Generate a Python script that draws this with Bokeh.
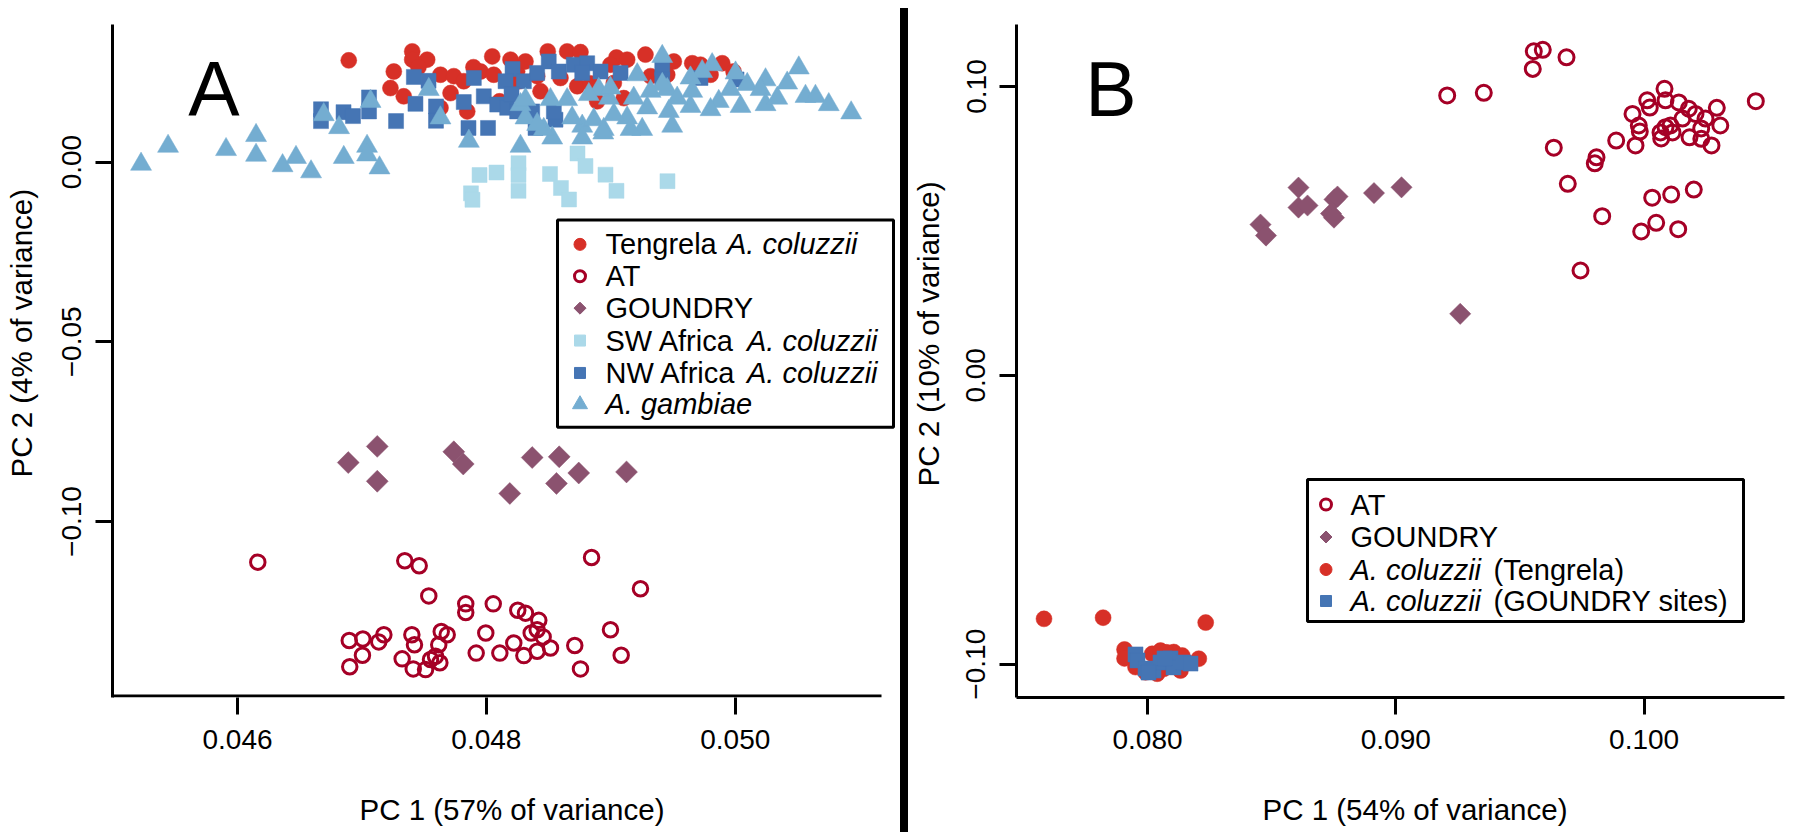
import math
from bokeh.plotting import figure
from bokeh.models import (Range1d, FixedTicker, CustomJSTickFormatter, Label,
                          BoxAnnotation, Div, Title)
from bokeh.layouts import row
from bokeh.embed import file_html
from bokeh.resources import INLINE

# ---------------- Panel A data (PC1, PC2) ----------------
tengrela_a_x = [0.046894, 0.047404, 0.047404, 0.047524, 0.047256, 0.047229, 0.047336, 0.047631,
                0.047738, 0.047818, 0.047712, 0.047846, 0.048047, 0.048194, 0.047953, 0.048059,
                0.048247, 0.047631, 0.048314, 0.048493, 0.048649, 0.048756, 0.049045, 0.049131,
                0.049278, 0.049506, 0.049654, 0.049720, 0.049895, 0.048997, 0.048260, 0.048408,
                0.048595, 0.048730, 0.049024, 0.049104, 0.048890, 0.049453, 0.049801, 0.049986,
                0.048105, 0.048435, 0.048837, 0.049319, 0.047454, 0.047896]
tengrela_a_y = [0.0283, 0.0308, 0.0285, 0.0285, 0.0252, 0.0206, 0.0183, 0.0243,
                0.0239, 0.0225, 0.0192, 0.0141, 0.0294, 0.0285, 0.0252, 0.0243,
                0.0252, 0.0151, 0.0280, 0.0308, 0.0308, 0.0306, 0.0291, 0.0285,
                0.0299, 0.0280, 0.0275, 0.0271, 0.0275, 0.0271, 0.0225, 0.0239,
                0.0234, 0.0211, 0.0220, 0.0178, 0.0169, 0.0243, 0.0243, 0.0252,
                0.0169, 0.0197, 0.0219, 0.0239, 0.0264, 0.0264]

at_a_x = [0.046163, 0.047344, 0.047460, 0.048845, 0.049238, 0.047537, 0.047834, 0.047834,
          0.048055, 0.048252, 0.048314, 0.048421, 0.048408, 0.048456, 0.048515, 0.048408,
          0.048301, 0.048220, 0.048108, 0.047995, 0.047918, 0.048710, 0.048756, 0.048997,
          0.049083, 0.046898, 0.047007, 0.047135, 0.047176, 0.047004, 0.046902, 0.047401,
          0.047422, 0.047323, 0.047412, 0.047511, 0.047551, 0.047617, 0.047637, 0.047685,
          0.047626, 0.047591, 0.048360]
at_a_y = [-0.1113, -0.1109, -0.1123, -0.1100, -0.1187, -0.1207, -0.1229, -0.1253,
          -0.1229, -0.1247, -0.1255, -0.1275, -0.1301, -0.1321, -0.1352, -0.1361,
          -0.1373, -0.1338, -0.1366, -0.1310, -0.1366, -0.1345, -0.1410, -0.1301,
          -0.1372, -0.1331, -0.1327, -0.1335, -0.1315, -0.1372, -0.1404, -0.1315,
          -0.1343, -0.1382, -0.1410, -0.1412, -0.1384, -0.1343, -0.1306, -0.1315,
          -0.1393, -0.1375, -0.1310]

goundry_a_x = [0.046890, 0.047123, 0.047123, 0.047738, 0.047814, 0.048368, 0.048585,
               0.048188, 0.048563, 0.048742, 0.049126]
goundry_a_y = [-0.0836, -0.0791, -0.0888, -0.0806, -0.0840, -0.0822, -0.0820,
               -0.0922, -0.0894, -0.0865, -0.0862]

sw_a_x = [0.047876, 0.047945, 0.048081, 0.048258, 0.048258, 0.048258, 0.048511, 0.048599,
          0.048664, 0.048732, 0.048796, 0.048957, 0.049045, 0.049455, 0.047888]
sw_a_y = [-0.0087, -0.0036, -0.0029, -0.0003, -0.0036, -0.0080, -0.0033, -0.0072,
          -0.0104, 0.0024, -0.0011, -0.0035, -0.0080, -0.0053, -0.0105]

nw_a_x = [0.046671, 0.046671, 0.046852, 0.046928, 0.047057, 0.047057, 0.047274, 0.047417,
          0.047535, 0.047430, 0.047595, 0.047595, 0.047818, 0.047856, 0.047899, 0.047979,
          0.048013, 0.048087, 0.048167, 0.048210, 0.048301, 0.048408, 0.048501, 0.048582,
          0.048702, 0.048810, 0.048770, 0.048917, 0.049078, 0.049413, 0.049413, 0.049720,
          0.050010, 0.048368, 0.048395, 0.048555, 0.048247, 0.048542, 0.048154, 0.048202]
nw_a_y = [0.0147, 0.0114, 0.0139, 0.0128, 0.0180, 0.0141, 0.0114, 0.0237,
          0.0226, 0.0162, 0.0155, 0.0115, 0.0167, 0.0095, 0.0234, 0.0183,
          0.0095, 0.0160, 0.0151, 0.0259, 0.0225, 0.0248, 0.0280, 0.0252,
          0.0271, 0.0275, 0.0248, 0.0252, 0.0248, 0.0262, 0.0229, 0.0234,
          0.0230, 0.0141, 0.0095, 0.0118, 0.0141, 0.0141, 0.0225, 0.0189]

gambiae_a_x = [0.045225, 0.045442, 0.045908, 0.046149, 0.046149, 0.046362, 0.046470, 0.046591,
               0.046854, 0.047041, 0.047041, 0.047141, 0.046816, 0.046693, 0.047069, 0.047537,
               0.047631, 0.047859, 0.048274, 0.048274, 0.048314, 0.049413, 0.049212, 0.049814,
               0.049734, 0.049640, 0.050002, 0.050510, 0.050243, 0.050417, 0.050096, 0.050203,
               0.050564, 0.050644, 0.050751, 0.050931, 0.050243, 0.050042, 0.050337, 0.049867,
               0.049801, 0.049640, 0.049453, 0.049413, 0.049319, 0.049533, 0.049292, 0.049466,
               0.049493, 0.049252, 0.049131, 0.049024, 0.048943, 0.048984, 0.048903, 0.048823,
               0.049184, 0.048997, 0.048770, 0.048770, 0.048689, 0.048649, 0.048515, 0.048529,
               0.048461, 0.048314, 0.049654, 0.049961, 0.049158, 0.048863, 0.048939, 0.048408]
gambiae_a_y = [-0.0006, 0.0044, 0.0035, 0.0074, 0.0019, -0.0010, 0.0013, -0.0027,
               0.0013, 0.0044, 0.0020, -0.0016, 0.0096, 0.0132, 0.0169, 0.0202,
               0.0123, 0.0058, 0.0044, 0.0160, 0.0123, 0.0294, 0.0243, 0.0271,
               0.0252, 0.0234, 0.0248, 0.0262, 0.0229, 0.0220, 0.0216, 0.0202,
               0.0183, 0.0183, 0.0160, 0.0137, 0.0160, 0.0155, 0.0178, 0.0169,
               0.0146, 0.0155, 0.0202, 0.0216, 0.0197, 0.0178, 0.0151, 0.0141,
               0.0100, 0.0091, 0.0123, 0.0132, 0.0091, 0.0178, 0.0202, 0.0188,
               0.0178, 0.0206, 0.0100, 0.0067, 0.0123, 0.0174, 0.0174, 0.0067,
               0.0091, 0.0174, 0.0197, 0.0202, 0.0091, 0.0118, 0.0081, 0.0105]

# ---------------- Panel B data (PC1, PC2) ----------------
at_b_x = [0.095558, 0.095920, 0.095517, 0.096875, 0.092070, 0.093544, 0.096363, 0.096927,
          0.098312, 0.097439, 0.098083, 0.098014, 0.098876, 0.099654, 0.100326, 0.101091,
          0.102001, 0.099883, 0.100487, 0.101373, 0.099533, 0.099786, 0.099827, 0.100125,
          0.100230, 0.100822, 0.100862, 0.100661, 0.100689, 0.100862, 0.101063, 0.101398,
          0.101800, 0.101829, 0.102070, 0.102300, 0.102304, 0.102714, 0.102928, 0.103069,
          0.104499, 0.102473, 0.101546, 0.101144]
at_b_y = [0.1122, 0.1127, 0.1061, 0.1101, 0.0969, 0.0978, 0.0788, 0.0663,
          0.0551, 0.0363, 0.0755, 0.0734, 0.0813, 0.0796, 0.0615, 0.0626,
          0.0643, 0.0498, 0.0528, 0.0506, 0.0905, 0.0865, 0.0844, 0.0952,
          0.0927, 0.0992, 0.0952, 0.0841, 0.0820, 0.0859, 0.0865, 0.0945,
          0.0923, 0.0824, 0.0905, 0.0855, 0.0819, 0.0796, 0.0926, 0.0865,
          0.0949, 0.0889, 0.0889, 0.0841]

goundry_b_x = [0.084551, 0.084772, 0.086081, 0.086081, 0.086444, 0.087531, 0.087652,
               0.087390, 0.087511, 0.089122, 0.090230, 0.092594]
goundry_b_y = [0.0522, 0.0484, 0.0650, 0.0581, 0.0588, 0.0609, 0.0619,
               0.0560, 0.0546, 0.0631, 0.0651, 0.0213]

tengrela_b_x = [0.075832, 0.078212, 0.082344, 0.079074, 0.079074, 0.079517, 0.080189, 0.080524,
                0.081059, 0.081398, 0.082066, 0.079920, 0.080391, 0.081329, 0.080656, 0.080765]
tengrela_b_y = [-0.0843, -0.0839, -0.0856, -0.0949, -0.0980, -0.1010, -0.0964, -0.0953,
                -0.0958, -0.0970, -0.0981, -0.1028, -0.1033, -0.1022, -0.1016, -0.0959]

sites_b_x = [0.079517, 0.079597, 0.079920, 0.080242, 0.080524, 0.080926, 0.081047, 0.081450,
             0.081732, 0.080685, 0.080040]
sites_b_y = [-0.0966, -0.0987, -0.1015, -0.1022, -0.0994, -0.0980, -0.1011, -0.0994,
             -0.0998, -0.0980, -0.1029]

# ticks and texts
a_xticks = [0.046, 0.048, 0.050]
a_yticks = [-0.10, -0.05, 0.00]
b_xticks = [0.080, 0.090, 0.100]
b_yticks = [-0.10, 0.00, 0.10]
a_xlabel = "PC 1 (57% of variance)"
a_ylabel = "PC 2 (4% of variance)"
b_xlabel = "PC 1 (54% of variance)"
b_ylabel = "PC 2 (10% of variance)"

# colours
C_TENG = "#D73027"
C_AT = "#A50026"
C_GOU = "#8B526F"
C_SW = "#ABD9E9"
C_NW = "#4575B4"
C_GAM = "#74ADD1"

FONT = "Liberation Sans"
TICK_SIZE = "28px"
TITLE_SIZE = "29.5px"
H = 836


# page-pixel calibration of each panel
def lin(px0, v0, scale):
    return lambda px: v0 + (px - px0) / scale


A_X = lin(237, 0.046, 124450.0)
A_Y = lambda py: (161 - py) / 3605.0
B_X = lin(1147, 0.080, 24830.0)
B_Y = lambda py: 0.10 - (py - 86) / 2888.5

# page-pixel frames (left, top, right, bottom); the page itself starts at 0,0
A_FRAME = (112, 23, 896, 698)
B_FRAME = (1016, 24, 1784, 697)


def make_fig(page_left, page_right, frame, fx, fy, xticks, yticks, xdig, ydig):
    p = figure(width=page_right - page_left, height=H,
               x_range=Range1d(fx(frame[0]), fx(frame[2])),
               y_range=Range1d(fy(frame[3]), fy(frame[1])),
               output_backend="svg", toolbar_location=None,
               min_border_left=frame[0] - page_left, min_border_right=page_right - frame[2],
               min_border_top=frame[1], min_border_bottom=H - frame[3])
    p.grid.visible = False
    p.outline_line_color = None
    p.border_fill_color = "white"
    for ax, ticks, dig in ((p.xaxis, xticks, xdig), (p.yaxis, yticks, ydig)):
        ax.ticker = FixedTicker(ticks=ticks)
        ax.formatter = CustomJSTickFormatter(
            code="return tick.toFixed(%d).replace('-', '\u2212');" % dig)
        ax.axis_line_width = 3
        ax.axis_line_color = "black"
        ax.major_tick_line_width = 3
        ax.major_tick_line_color = "black"
        ax.major_tick_out = 17
        ax.major_tick_in = 0
        ax.minor_tick_line_color = None
        ax.major_label_text_font = FONT
        ax.major_label_text_font_size = TICK_SIZE
        ax.major_label_text_color = "black"
    p.xaxis.major_label_standoff = 15
    p.yaxis.major_label_standoff = 14
    p.yaxis.major_label_orientation = "vertical"
    return p


def add_text(p, fx, fy, px, py, text, size="29px", style="normal", align="left",
             baseline="middle"):
    p.add_layout(Label(x=fx(px), y=fy(py), text=text, text_font=FONT, text_font_size=size,
                       text_font_style=style, text_align=align, text_baseline=baseline,
                       text_color="black"))


def add_xtitle(p, text, offset, lh):
    # leading empty line pushes the title away from the tick labels
    p.add_layout(Title(text="\n" + text, align="left", offset=offset, standoff=0,
                       vertical_align="bottom", text_line_height=lh,
                       text_font=FONT, text_font_size=TITLE_SIZE, text_font_style="normal",
                       text_color="black"), "below")


def add_ytitle(p, text, offset, lh):
    # trailing empty line keeps the title away from the tick labels
    p.add_layout(Title(text=text + "\n", align="left", offset=offset, standoff=0,
                       vertical_align="top", text_line_height=lh,
                       text_font=FONT, text_font_size=TITLE_SIZE, text_font_style="normal",
                       text_color="black"), "left")


def add_box(p, fx, fy, l, t, r, b):
    p.add_layout(BoxAnnotation(left=fx(l), right=fx(r), top=fy(t), bottom=fy(b),
                               fill_color="white", fill_alpha=1.0, line_color="black",
                               line_alpha=1.0, line_width=3, level="underlay"))


# ---------------- Figure A ----------------
pa = make_fig(0, 900, A_FRAME, A_X, A_Y, a_xticks, a_yticks, 3, 2)
pa.xaxis.axis_line_color = None
pa.segment(x0=[A_X(112)], y0=[A_Y(696.5)], x1=[A_X(881)], y1=[A_Y(696.5)],
           line_width=3, line_color="black")

pa.scatter(tengrela_a_x, tengrela_a_y, marker="circle", size=16,
           fill_color=C_TENG, line_color=C_TENG, line_width=0.5)
pa.scatter(at_a_x, at_a_y, marker="circle", size=14.5, fill_color=None,
           line_color=C_AT, line_width=3)
pa.scatter(goundry_a_x, goundry_a_y, marker="square", size=15.5, angle=math.pi / 4,
           fill_color=C_GOU, line_color=C_GOU, line_width=0.5)
pa.scatter(sw_a_x, sw_a_y, marker="square", size=15, fill_color=C_SW,
           line_color=C_SW, line_width=0.5)
pa.scatter(nw_a_x, nw_a_y, marker="square", size=15, fill_color=C_NW,
           line_color=C_NW, line_width=0.5)
pa.scatter(gambiae_a_x, gambiae_a_y, marker="triangle", size=21, fill_color=C_GAM,
           line_color=C_GAM, line_width=0.5)

# legend A
add_box(pa, A_X, A_Y, 557, 219, 893, 427)
leg_a_rows = [243.5, 275.5, 307.5, 340, 372.5, 404]
mx, tx = 579.5, 605
mxa = A_X(mx)
ry = [A_Y(v) for v in leg_a_rows]
pa.scatter([mxa], [ry[0]], marker="circle", size=12, fill_color=C_TENG, line_color=C_TENG)
pa.scatter([mxa], [ry[1]], marker="circle", size=11, fill_color=None, line_color=C_AT, line_width=3)
pa.scatter([mxa], [ry[2]], marker="square", size=8.5, angle=math.pi / 4, fill_color=C_GOU, line_color=C_GOU)
pa.scatter([mxa], [ry[3]], marker="square", size=11, fill_color=C_SW, line_color=C_SW)
pa.scatter([mxa], [ry[4]], marker="square", size=11, fill_color=C_NW, line_color=C_NW)
pa.scatter([mxa], [ry[5]], marker="triangle", size=15, fill_color=C_GAM, line_color=C_GAM)
add_text(pa, A_X, A_Y, tx, leg_a_rows[0], "Tengrela")
add_text(pa, A_X, A_Y, tx + 121.5, leg_a_rows[0], "A. coluzzii", style="italic")
add_text(pa, A_X, A_Y, tx, leg_a_rows[1], "AT")
add_text(pa, A_X, A_Y, tx, leg_a_rows[2], "GOUNDRY")
add_text(pa, A_X, A_Y, tx, leg_a_rows[3], "SW Africa")
add_text(pa, A_X, A_Y, tx + 141.5, leg_a_rows[3], "A. coluzzii", style="italic")
add_text(pa, A_X, A_Y, tx, leg_a_rows[4], "NW Africa")
add_text(pa, A_X, A_Y, tx + 141.5, leg_a_rows[4], "A. coluzzii", style="italic")
add_text(pa, A_X, A_Y, tx, leg_a_rows[5], "A. gambiae", style="italic")

add_xtitle(pa, a_xlabel, 359 - 112, 1.22)
add_ytitle(pa, a_ylabel, 698 - 478, 0.62)
add_text(pa, A_X, A_Y, 213.5, 88, "A", size="77px", align="center", baseline="alphabetic")

# ---------------- Figure B ----------------
pb = make_fig(908, 1800, B_FRAME, B_X, B_Y, b_xticks, b_yticks, 3, 2)

pb.scatter(at_b_x, at_b_y, marker="circle", size=15, fill_color=None,
           line_color=C_AT, line_width=3)
pb.scatter(goundry_b_x, goundry_b_y, marker="square", size=15, angle=math.pi / 4,
           fill_color=C_GOU, line_color=C_GOU, line_width=0.5)
pb.scatter(tengrela_b_x, tengrela_b_y, marker="circle", size=16,
           fill_color=C_TENG, line_color=C_TENG, line_width=0.5)
pb.scatter(sites_b_x, sites_b_y, marker="square", size=15, fill_color=C_NW,
           line_color=C_NW, line_width=0.5)

add_box(pb, B_X, B_Y, 1307, 479, 1743, 621)
leg_b_rows = [504, 536.5, 569, 600.5]
mx, tx = 1325.5, 1350
mxb = B_X(mx)
ry = [B_Y(v) for v in leg_b_rows]
pb.scatter([mxb], [ry[0]], marker="circle", size=11, fill_color=None, line_color=C_AT, line_width=3)
pb.scatter([mxb], [ry[1]], marker="square", size=8.5, angle=math.pi / 4, fill_color=C_GOU, line_color=C_GOU)
pb.scatter([mxb], [ry[2]], marker="circle", size=12, fill_color=C_TENG, line_color=C_TENG)
pb.scatter([mxb], [ry[3]], marker="square", size=11, fill_color=C_NW, line_color=C_NW)
add_text(pb, B_X, B_Y, tx, leg_b_rows[0], "AT")
add_text(pb, B_X, B_Y, tx, leg_b_rows[1], "GOUNDRY")
add_text(pb, B_X, B_Y, tx, leg_b_rows[2], "A. coluzzii", style="italic")
add_text(pb, B_X, B_Y, tx + 143, leg_b_rows[2], "(Tengrela)")
add_text(pb, B_X, B_Y, tx, leg_b_rows[3], "A. coluzzii", style="italic")
add_text(pb, B_X, B_Y, tx + 143, leg_b_rows[3], "(GOUNDRY sites)")

add_xtitle(pb, b_xlabel, 1262 - 1016, 1.22)
add_ytitle(pb, b_ylabel, 697 - 486, 0.52)
add_text(pb, B_X, B_Y, 1110.5, 88, "B", size="77px", align="center", baseline="alphabetic")

sep = Div(width=8, height=824, margin=(8, 0, 0, 0), styles={"background-color": "black"})
layout = row(pa, sep, pb, spacing=0)

open("out.html", "w").write(file_html(layout, INLINE))
